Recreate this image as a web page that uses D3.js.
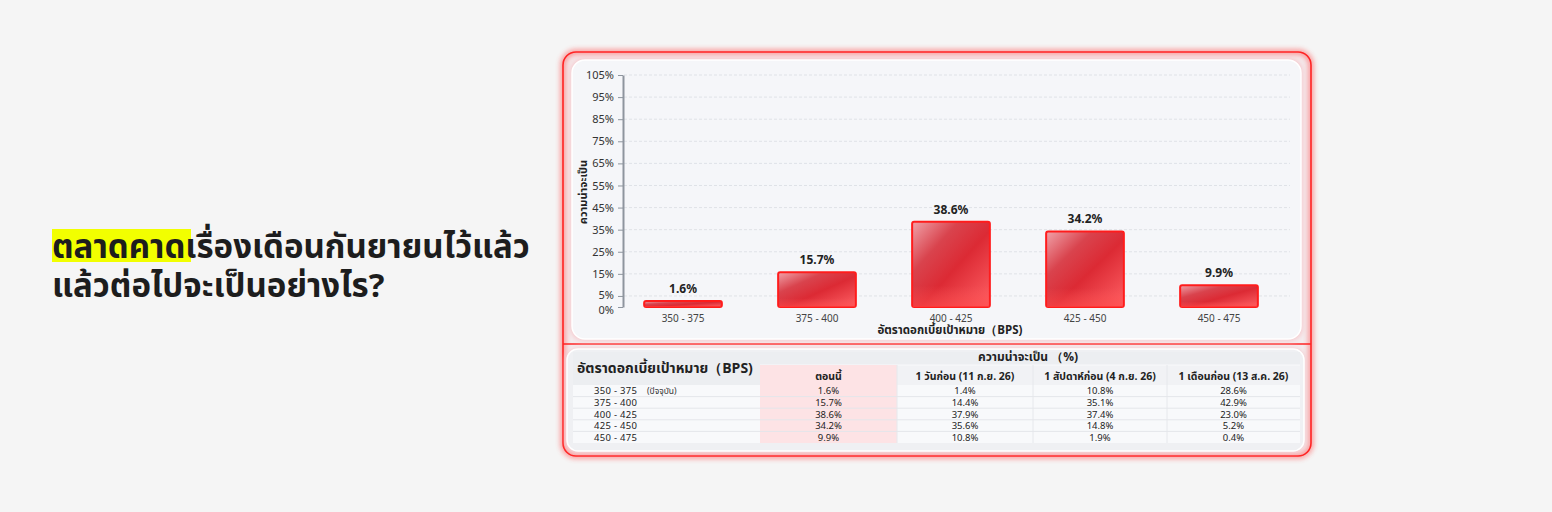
<!DOCTYPE html>
<html><head><meta charset="utf-8">
<script src="https://cdn.jsdelivr.net/npm/d3@7"></script>
<style>
html,body{margin:0;padding:0;background:#f5f5f5;}
svg{display:block;}
</style></head>
<body>
<svg id="c" width="1552" height="512"></svg>
<script>
const titleLine1Highlight = "ตลาดคาด";
const titleLine1Rest = "เรื่องเดือนกันยายนไว้แล้ว";
const titleLine2 = "แล้วต่อไปจะเป็นอย่างไร?";
const categories = ["350 - 375","375 - 400","400 - 425","425 - 450","450 - 475"];
const probNow = [1.6,15.7,38.6,34.2,9.9];
const prob1Day = [1.4,14.4,37.9,35.6,10.8];
const prob1Week = [10.8,35.1,37.4,14.8,1.9];
const prob1Month = [28.6,42.9,23.0,5.2,0.4];
const yTicks = [0,5,15,25,35,45,55,65,75,85,95,105];
const yAxisTitle = "ความน่าจะเป็น";
const xAxisTitle = "อัตราดอกเบี้ยเป้าหมาย（BPS)";
const tableFirstHeader = "อัตราดอกเบี้ยเป้าหมาย（BPS)";
const tableGroupHeader = "ความน่าจะเป็น （%)";
const columnHeaders = ["ตอนนี้","1 วันก่อน (11 ก.ย. 26)","1 สัปดาห์ก่อน (4 ก.ย. 26)","1 เดือนก่อน (13 ส.ค. 26)"];
const currentNote = "(ปัจจุบัน)";

const svg = d3.select("#c");
const thai = "'Noto Sans Thai','Noto Sans Thai UI','Noto Sans',sans-serif";
const latin = "'Noto Sans','Open Sans',sans-serif";
const defs = svg.append("defs");

// ---------- Title ----------
svg.append("rect").attr("x",52).attr("y",229).attr("width",139).attr("height",33).attr("fill","#f2ff00");
const t1 = svg.append("text").attr("x",52).attr("y",258).attr("font-family",thai)
  .attr("font-weight",700).attr("font-size",30).attr("fill","#1d1d1d");
t1.append("tspan").text(titleLine1Highlight);
t1.append("tspan").text(titleLine1Rest);
const t2 = svg.append("text").attr("x",52).attr("y",297).attr("font-family",thai)
  .attr("font-weight",700).attr("font-size",30).attr("fill","#1d1d1d").text(titleLine2);
const w1 = t1.node().getComputedTextLength();
const fs = 30*478/w1;
t1.attr("font-size",fs); t2.attr("font-size",fs);

// ---------- Card ----------
const glow = defs.append("filter").attr("id","glow").attr("x","-10%").attr("y","-10%").attr("width","120%").attr("height","120%");
glow.append("feGaussianBlur").attr("stdDeviation",2.5);

svg.append("rect").attr("x",563).attr("y",52).attr("width",748).attr("height",404).attr("rx",13)
  .attr("fill","#f4ecee");
svg.append("rect").attr("x",563).attr("y",52).attr("width",748).attr("height",404).attr("rx",13)
  .attr("fill","none").attr("stroke","#ff3a3a").attr("stroke-width",6).attr("opacity",0.45).attr("filter","url(#glow)");
svg.append("rect").attr("x",563).attr("y",52).attr("width",748).attr("height",404).attr("rx",13)
  .attr("fill","none").attr("stroke","#ff2424").attr("stroke-width",1.6);
svg.append("line").attr("x1",563).attr("x2",1311).attr("y1",344).attr("y2",344)
  .attr("stroke","#ff3030").attr("stroke-width",4).attr("opacity",0.5).attr("filter","url(#glow)");
svg.append("line").attr("x1",563).attr("x2",1311).attr("y1",344).attr("y2",344)
  .attr("stroke","#ff2424").attr("stroke-width",1.4);

svg.append("rect").attr("x",570).attr("y",58).attr("width",733).attr("height",283).attr("rx",14)
  .attr("fill","#f6c9cd").attr("filter","url(#glow)");
svg.append("rect").attr("x",572).attr("y",60).attr("width",729).attr("height",279).attr("rx",13)
  .attr("fill","#f5f6f9").attr("stroke","#ffffff").attr("stroke-width",1.5);
svg.append("rect").attr("x",566).attr("y",348).attr("width",739).attr("height",104).attr("rx",12)
  .attr("fill","#f6c9cd").attr("filter","url(#glow)");
svg.append("rect").attr("x",567).attr("y",349).attr("width",737).attr("height",102).attr("rx",11)
  .attr("fill","#eff0f3").attr("stroke","#ffffff").attr("stroke-width",1.5);

// ---------- Chart ----------
const y = d3.scaleLinear().domain([0,105]).range([307,75]);
const x = d3.scaleBand().domain(categories).range([616,1286]).paddingInner(0.42).paddingOuter(0.21);

svg.append("g").selectAll("line").data(yTicks.filter(d=>d>0)).join("line")
  .attr("x1",624).attr("x2",1290).attr("y1",d=>y(d)).attr("y2",d=>y(d))
  .attr("stroke","#dfe2e7").attr("stroke-width",1).attr("stroke-dasharray","3,2");

const yAxis = svg.append("g").attr("transform","translate(623,0)")
  .call(d3.axisLeft(y).tickValues(yTicks).tickFormat(d=>d+"%").tickSize(5).tickSizeOuter(0));
yAxis.select(".domain").attr("stroke","#8e959e").attr("stroke-width",2);
yAxis.selectAll(".tick line").attr("stroke","#8e959e");
yAxis.selectAll(".tick text").attr("font-family",latin).attr("font-size",11).attr("fill","#333").attr("x",-9);
yAxis.selectAll(".tick").filter(d=>d===0).select("text").attr("dy","0.62em");
yAxis.selectAll(".tick").filter(d=>d===5).select("text").attr("dy","0.2em");

svg.append("text").attr("transform","translate(587,192) rotate(-90)").attr("text-anchor","middle")
  .attr("font-family",thai).attr("font-weight",700).attr("font-size",11).attr("fill","#222").text(yAxisTitle);

const xAxis = svg.append("g").attr("transform","translate(0,307)")
  .call(d3.axisBottom(x).tickSize(0));
xAxis.select(".domain").remove();
xAxis.selectAll(".tick text").attr("font-family",latin).attr("font-size",10).attr("fill","#444").attr("dy","1.2em");
svg.append("text").attr("x",950).attr("y",334).attr("text-anchor","middle")
  .attr("font-family",thai).attr("font-weight",700).attr("font-size",11.5).attr("fill","#222").text(xAxisTitle);

const bg = defs.append("linearGradient").attr("id","barGrad").attr("x1","0").attr("y1","0").attr("x2","1").attr("y2","1");
bg.append("stop").attr("offset","0%").attr("stop-color","#f0a3aa");
bg.append("stop").attr("offset","30%").attr("stop-color","#d9434d");
bg.append("stop").attr("offset","55%").attr("stop-color","#dc2a34");
bg.append("stop").attr("offset","100%").attr("stop-color","#ff6064");
const bv = defs.append("linearGradient").attr("id","barShade").attr("x1","0").attr("y1","0").attr("x2","0").attr("y2","1");
bv.append("stop").attr("offset","0%").attr("stop-color","#ffffff").attr("stop-opacity",0.0);
bv.append("stop").attr("offset","75%").attr("stop-color","#ff5a5a").attr("stop-opacity",0.0);
bv.append("stop").attr("offset","100%").attr("stop-color","#ff4a4a").attr("stop-opacity",0.6);

const barMin = 6;
const bars = svg.append("g").selectAll("g").data(categories).join("g");
bars.append("rect")
  .attr("x",d=>x(d)).attr("width",x.bandwidth())
  .attr("y",(d,i)=>Math.min(y(probNow[i]), y(0)-barMin))
  .attr("height",(d,i)=>Math.max(y(0)-y(probNow[i]), barMin))
  .attr("rx",2).attr("fill","url(#barGrad)").attr("stroke","#ff1c1c").attr("stroke-width",2);
bars.append("rect")
  .attr("x",d=>x(d)+1).attr("width",x.bandwidth()-2)
  .attr("y",(d,i)=>Math.min(y(probNow[i]), y(0)-barMin))
  .attr("height",(d,i)=>Math.max(y(0)-y(probNow[i]), barMin))
  .attr("fill","url(#barShade)");
bars.append("text")
  .attr("x",d=>x(d)+x.bandwidth()/2)
  .attr("y",(d,i)=>Math.min(y(probNow[i]), y(0)-barMin)-8)
  .attr("text-anchor","middle").attr("font-family",latin).attr("font-weight",700).attr("font-size",12).attr("fill","#222")
  .text((d,i)=>probNow[i].toFixed(1)+"%");

// ---------- Table ----------
const colEdges = [573,760,897,1033,1167,1300];
const rowTop = 385, rowH = 11.6;
const tbl = svg.append("g");
tbl.append("rect").attr("x",573).attr("y",352).attr("width",727).attr("height",33).attr("fill","#eceef1");
tbl.append("rect").attr("x",760).attr("y",365).attr("width",540).attr("height",20).attr("fill","#f1f2f5");
tbl.append("line").attr("x1",760).attr("x2",1300).attr("y1",365).attr("y2",365).attr("stroke","#f9f9fb");
tbl.append("rect").attr("x",573).attr("y",rowTop).attr("width",727).attr("height",rowH*5).attr("fill","#f8f9fb");
tbl.append("rect").attr("x",760).attr("y",365).attr("width",137).attr("height",rowTop+rowH*5-365).attr("fill","#fde3e5");
tbl.selectAll("line.cs").data(colEdges.slice(2,5)).join("line").attr("class","cs")
  .attr("x1",d=>d).attr("x2",d=>d).attr("y1",365).attr("y2",rowTop+rowH*5).attr("stroke","#e6e8ec");
tbl.selectAll("line.rl").data(d3.range(1,5)).join("line").attr("class","rl")
  .attr("x1",573).attr("x2",1300).attr("y1",i=>rowTop+i*rowH).attr("y2",i=>rowTop+i*rowH).attr("stroke","#e4e6ea");

tbl.append("text").attr("x",577).attr("y",373).attr("font-family",thai).attr("font-weight",700)
  .attr("font-size",14).attr("fill","#222").text(tableFirstHeader);
tbl.append("text").attr("x",1028).attr("y",361).attr("text-anchor","middle").attr("font-family",thai).attr("font-weight",700)
  .attr("font-size",12).attr("fill","#222").text(tableGroupHeader);
tbl.selectAll("text.ch").data(columnHeaders).join("text").attr("class","ch")
  .attr("x",(d,i)=>(colEdges[i+1]+colEdges[i+2])/2).attr("y",380).attr("text-anchor","middle")
  .attr("font-family",thai).attr("font-weight",700).attr("font-size",10.5).attr("fill","#222").text(d=>d);

const series = [probNow, prob1Day, prob1Week, prob1Month];
tbl.selectAll("text.rc").data(categories).join("text").attr("class","rc")
  .attr("x",594).attr("y",(d,i)=>rowTop+i*rowH+rowH/2+3.5)
  .attr("font-family",thai).attr("font-size",9.5).attr("letter-spacing",0.3).attr("fill","#222").text(d=>d);
tbl.append("text").attr("x",647).attr("y",rowTop+rowH/2+3.3).attr("font-family",thai).attr("font-size",8.5)
  .attr("fill","#333").text(currentNote);
series.forEach((s,c)=>{
  tbl.selectAll("text.v"+c).data(s).join("text").attr("class","v"+c)
    .attr("x",(colEdges[c+1]+colEdges[c+2])/2).attr("y",(d,i)=>rowTop+i*rowH+rowH/2+3.5)
    .attr("text-anchor","middle").attr("font-family",thai).attr("font-size",9.5).attr("fill","#222")
    .text(d=>d.toFixed(1)+"%");
});
</script>
</body></html>
